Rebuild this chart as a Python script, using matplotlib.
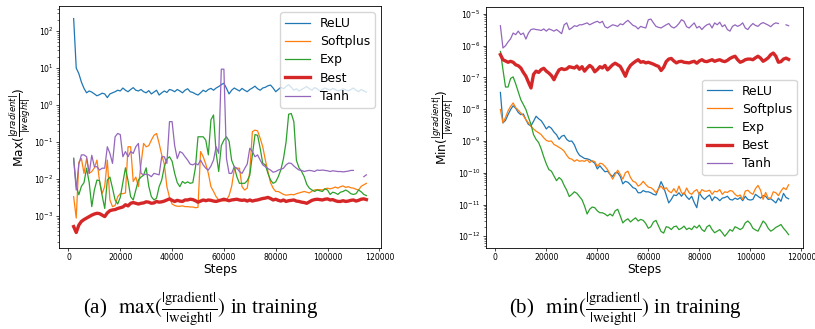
import numpy as np
import matplotlib
matplotlib.use("Agg")
import matplotlib.pyplot as plt
from matplotlib.ticker import LogLocator, NullFormatter

#Training steps, logged every 1000 steps from 2000 to 115000
steps = np.arange(2000, 115001, 1000)

#Values below are log10 of the ratio
#---- max(|gradient|/|weight|) ----
max_relu = [2.34, 1.0, 0.85, 0.62, 0.45, 0.33, 0.38, 0.35, 0.30, 0.25,
            0.28, 0.32, 0.30, 0.20, 0.30, 0.33, 0.36, 0.40, 0.38, 0.46,
            0.40, 0.36, 0.42, 0.47, 0.40, 0.38, 0.42, 0.36, 0.33, 0.39,
            0.30, 0.35, 0.40, 0.27, 0.33, 0.38, 0.34, 0.42, 0.40, 0.36,
            0.42, 0.38, 0.33, 0.40, 0.44, 0.36, 0.34, 0.30, 0.27, 0.33,
            0.40, 0.36, 0.42, 0.45, 0.40, 0.46, 0.50, 0.55, 0.59, 0.45,
            0.30, 0.40, 0.46, 0.42, 0.38, 0.45, 0.40, 0.36, 0.42, 0.46,
            0.51, 0.44, 0.40, 0.46, 0.48, 0.52, 0.54, 0.46, 0.36, 0.42,
            0.48, 0.44, 0.50, 0.55, 0.48, 0.40, 0.44, 0.38, 0.42, 0.46,
            0.50, 0.44, 0.40, 0.47, 0.44, 0.38, 0.42, 0.46, 0.43, 0.40,
            0.45, 0.42, 0.38, 0.40, 0.44, 0.41, 0.38, 0.42, 0.46, 0.40,
            0.36, 0.42, 0.38, 0.35]
max_softplus = [-2.48, -3.06, -1.55, -1.45, -1.85, -1.45, -1.85, -1.80, -1.70, -1.49,
                -2.07, -2.40, -2.20, -1.49, -2.57, -2.75, -2.72, -2.48, -2.40, -2.40,
                -2.38, -1.13, -1.13, -2.07, -1.95, -2.21, -1.60, -1.04, -1.13, -1.10,
                -0.95, -0.82, -0.77, -1.04, -1.35, -1.60, -2.21, -2.50, -2.68, -2.72,
                -2.74, -2.74, -2.73, -2.75, -2.75, -2.76, -2.76, -2.78, -2.77, -1.26,
                -1.40, -1.60, -1.85, -2.21, -2.34, -2.48, -2.57, -2.58, -2.60, -2.57,
                -2.45, -2.20, -1.75, -1.71, -1.71, -2.21, -2.30, -2.25, -1.80, -0.72,
                -0.68, -0.70, -0.90, -1.13, -1.49, -1.80, -2.10, -2.25, -2.34, -2.34,
                -2.38, -2.42, -2.44, -2.43, -2.42, -2.43, -2.40, -2.38, -2.36, -2.34,
                -2.36, -2.38, -2.33, -2.30, -2.29, -2.29, -2.30, -2.27, -2.25, -2.27,
                -2.25, -2.22, -2.25, -2.21, -2.19, -2.23, -2.21, -2.24, -2.25, -2.28,
                -2.30, -2.20, -2.16, -2.12]
max_exp = [-1.44, -2.20, -2.43, -2.20, -2.10, -1.71, -2.10, -2.75, -2.30, -2.03,
           -2.05, -2.45, -2.80, -2.03, -1.95, -2.25, -2.57, -2.68, -2.50, -2.10,
           -1.70, -2.05, -2.48, -2.57, -2.30, -2.03, -1.95, -1.90, -1.70, -2.20,
           -2.48, -2.57, -2.52, -2.21, -2.03, -1.67, -1.46, -1.40, -1.52, -1.85,
           -2.10, -2.21, -2.07, -2.12, -2.08, -2.12, -2.10, -1.70, -0.86, -0.86,
           -0.86, -0.95, -1.35, -0.40, -0.27, -1.30, -1.80, -1.10, -0.95, -0.86,
           -0.98, -1.50, -1.67, -1.94, -2.12, -2.12, -2.12, -2.05, -1.90, -1.35,
           -0.80, -0.82, -1.17, -1.58, -1.62, -1.85, -2.03, -2.12, -2.08, -1.94,
           -1.75, -1.45, -1.00, -0.25, -0.23, -0.45, -1.50, -1.70, -1.80, -1.94,
           -2.15, -2.25, -2.30, -2.34, -2.30, -2.32, -2.34, -2.27, -2.30, -2.42,
           -2.36, -2.38, -2.42, -2.36, -2.34, -2.30, -2.34, -2.40, -2.42, -2.40,
           -2.30, -2.35, -2.42, -2.45]
max_best = [-3.29, -3.45, -3.25, -3.15, -3.10, -3.06, -3.02, -2.98, -2.95, -2.93,
            -2.94, -2.98, -3.02, -2.92, -2.86, -2.84, -2.83, -2.80, -2.78, -2.76,
            -2.70, -2.73, -2.66, -2.64, -2.66, -2.68, -2.66, -2.65, -2.62, -2.63,
            -2.66, -2.65, -2.61, -2.63, -2.62, -2.60, -2.57, -2.54, -2.58, -2.61,
            -2.58, -2.60, -2.61, -2.57, -2.57, -2.55, -2.56, -2.59, -2.63, -2.60,
            -2.57, -2.59, -2.57, -2.58, -2.60, -2.61, -2.59, -2.57, -2.55, -2.57,
            -2.59, -2.57, -2.56, -2.55, -2.57, -2.58, -2.57, -2.60, -2.57, -2.60,
            -2.58, -2.57, -2.55, -2.53, -2.52, -2.50, -2.53, -2.57, -2.55, -2.58,
            -2.60, -2.57, -2.61, -2.59, -2.58, -2.57, -2.60, -2.61, -2.63, -2.64,
            -2.66, -2.62, -2.58, -2.56, -2.55, -2.56, -2.57, -2.55, -2.54, -2.57,
            -2.56, -2.59, -2.61, -2.61, -2.59, -2.61, -2.60, -2.58, -2.57, -2.60,
            -2.58, -2.55, -2.54, -2.56]
max_tanh = [-1.45, -2.30, -1.60, -1.35, -1.35, -1.40, -1.85, -1.36, -1.67, -1.67,
            -1.76, -1.71, -1.71, -1.13, -1.31, -1.58, -0.86, -0.77, -0.80, -1.40,
            -1.26, -1.40, -1.26, -1.31, -1.13, -1.04, -1.85, -1.89, -1.87, -1.89,
            -1.94, -1.85, -1.87, -1.89, -1.40, -1.40, -1.58, -0.45, -0.45, -1.10,
            -1.45, -1.26, -1.30, -1.40, -1.49, -1.60, -1.62, -1.58, -1.62, -1.49,
            -1.62, -1.71, -1.76, -1.65, -1.49, -1.13, -1.31, 0.97, 0.97, -1.45,
            -1.85, -1.85, -1.67, -1.71, -1.80, -1.85, -1.72, -1.60, -1.17, -1.26,
            -1.40, -1.35, -1.49, -1.62, -1.67, -1.72, -1.76, -1.82, -1.80, -1.76,
            -1.74, -1.71, -1.62, -1.57, -1.58, -1.65, -1.71, -1.76, -1.77, -1.80,
            -1.78, -1.77, -1.78, -1.80, -1.76, -1.77, -1.76, -1.77, -1.78, -1.80,
            -1.78, -1.79, -1.80, -1.80, -1.81, -1.80, -1.79, -1.77, -1.77, np.nan,
            np.nan, np.nan, -1.94, -1.89]

#---- min(|gradient|/|weight|) ----
min_relu = [-7.47, -8.43, -8.35, -8.17, -8.01, -7.89, -7.97, -8.10, -8.17, -8.15,
            -8.33, -8.48, -8.52, -8.38, -8.22, -8.30, -8.36, -8.48, -8.62, -8.54,
            -8.60, -8.72, -8.80, -8.95, -8.85, -8.82, -8.95, -9.01, -9.00, -9.12,
            -9.32, -9.45, -9.50, -9.55, -9.56, -9.59, -9.64, -9.70, -9.88, -9.78,
            -9.88, -9.97, -9.95, -10.05, -10.12, -10.00, -10.00, -10.12, -10.35, -10.27,
            -10.30, -10.38, -10.47, -10.50, -10.63, -10.63, -10.56, -10.60, -10.60, -10.63,
            -10.68, -10.70, -10.50, -10.28, -10.45, -10.70, -10.95, -10.84, -10.70, -10.72,
            -10.63, -10.74, -10.63, -10.76, -10.84, -10.74, -10.94, -11.10, -10.63, -10.76,
            -10.84, -10.76, -10.70, -10.88, -10.76, -10.80, -10.88, -10.80, -10.78, -10.74,
            -10.84, -10.86, -10.80, -10.84, -10.78, -10.88, -10.74, -10.84, -10.86, -10.84,
            -10.68, -10.74, -10.80, -10.72, -10.74, -10.84, -10.82, -10.88, -10.95, -10.80,
            -10.90, -10.65, -10.78, -10.82]
min_softplus = [-8.01, -8.43, -8.26, -8.05, -7.91, -7.80, -7.95, -8.03, -8.12, -8.20,
                -8.33, -8.43, -8.54, -8.62, -8.69, -8.74, -8.80, -8.90, -8.98, -9.01,
                -9.00, -9.11, -9.15, -9.20, -9.25, -9.32, -9.45, -9.55, -9.57, -9.64,
                -9.59, -9.64, -9.62, -9.64, -9.59, -9.68, -9.62, -9.65, -9.80, -9.70,
                -9.72, -9.80, -9.90, -10.05, -10.20, -10.05, -9.92, -10.05, -10.20, -10.00,
                -9.95, -10.15, -10.27, -10.30, -10.42, -10.37, -10.27, -10.37, -10.45, -10.47,
                -10.53, -10.63, -10.50, -10.42, -10.53, -10.47, -10.58, -10.63, -10.50, -10.63,
                -10.42, -10.63, -10.68, -10.48, -10.63, -10.68, -10.58, -10.53, -10.68, -10.53,
                -10.58, -10.58, -10.55, -10.68, -10.58, -10.60, -10.53, -10.68, -10.60, -10.62,
                -10.56, -10.58, -10.68, -10.74, -10.70, -10.84, -10.58, -10.55, -10.63, -10.68,
                -10.50, -10.40, -10.55, -10.84, -10.62, -10.80, -10.80, -10.60, -10.63, -10.72,
                -10.58, -10.47, -10.53, -10.38]
min_exp = [-6.18, -6.75, -7.30, -7.30, -7.03, -6.98, -7.20, -7.45, -7.70, -7.85,
           -8.01, -8.25, -8.48, -8.80, -8.95, -9.05, -9.25, -9.50, -9.72, -9.90,
           -9.95, -10.10, -10.25, -10.15, -10.22, -10.40, -10.55, -10.75, -10.68, -10.60,
           -10.65, -10.75, -10.85, -11.05, -11.30, -11.15, -11.08, -11.10, -11.20, -11.26,
           -11.26, -11.30, -11.36, -11.30, -11.36, -11.20, -11.15, -11.36, -11.58, -11.50,
           -11.45, -11.55, -11.48, -11.42, -11.52, -11.47, -11.50, -11.60, -11.75, -11.70,
           -11.55, -11.50, -11.68, -11.85, -11.90, -11.70, -11.72, -11.79, -11.70, -11.68,
           -11.79, -11.75, -11.68, -11.79, -11.74, -11.79, -11.68, -11.74, -11.65, -11.79,
           -11.85, -11.70, -11.65, -11.79, -11.89, -11.84, -11.79, -11.89, -12.00, -11.90,
           -11.79, -11.84, -11.70, -11.74, -11.79, -11.74, -11.58, -11.52, -11.60, -11.75,
           -11.80, -11.84, -11.68, -11.52, -11.60, -11.75, -11.84, -11.79, -11.72, -11.68,
           -11.63, -11.75, -11.84, -11.95]
min_best = [-6.28, -6.44, -6.48, -6.52, -6.49, -6.52, -6.60, -6.63, -6.70, -6.84,
            -6.96, -7.15, -7.33, -6.90, -6.80, -6.84, -6.75, -6.71, -6.80, -6.86,
            -6.94, -7.07, -6.90, -6.76, -6.72, -6.75, -6.73, -6.66, -6.68, -6.70,
            -6.64, -6.74, -6.66, -6.80, -6.70, -6.62, -6.68, -6.82, -6.75, -6.66,
            -6.70, -6.62, -6.76, -6.68, -6.60, -6.55, -6.60, -6.65, -6.80, -6.96,
            -6.75, -6.62, -6.55, -6.49, -6.44, -6.52, -6.50, -6.54, -6.52, -6.55,
            -6.58, -6.62, -6.65, -6.78, -6.68, -6.50, -6.42, -6.40, -6.48, -6.54,
            -6.50, -6.49, -6.52, -6.53, -6.54, -6.51, -6.49, -6.55, -6.48, -6.44,
            -6.49, -6.50, -6.47, -6.44, -6.49, -6.46, -6.44, -6.48, -6.50, -6.46,
            -6.40, -6.36, -6.33, -6.44, -6.52, -6.49, -6.44, -6.42, -6.42, -6.44,
            -6.38, -6.33, -6.39, -6.49, -6.44, -6.38, -6.28, -6.23, -6.33, -6.52,
            -6.50, -6.42, -6.39, -6.43]
min_tanh = [-5.37, -6.07, -6.00, -5.88, -5.78, -5.60, -5.65, -5.54, -5.65, -5.60,
            -5.79, -5.60, -5.49, -5.47, -5.49, -5.50, -5.52, -5.47, -5.54, -5.47,
            -5.50, -5.54, -5.49, -5.55, -5.62, -5.34, -5.28, -5.49, -5.44, -5.37,
            -5.39, -5.34, -5.34, -5.31, -5.28, -5.34, -5.30, -5.26, -5.23, -5.28,
            -5.23, -5.40, -5.44, -5.39, -5.34, -5.36, -5.39, -5.31, -5.34, -5.26,
            -5.20, -5.28, -5.36, -5.39, -5.47, -5.39, -5.42, -5.44, -5.18, -5.16,
            -5.28, -5.39, -5.42, -5.44, -5.39, -5.34, -5.30, -5.40, -5.44, -5.39,
            -5.30, -5.18, -5.23, -5.40, -5.44, -5.36, -5.28, -5.44, -5.39, -5.49,
            -5.40, -5.34, -5.31, -5.44, -5.28, -5.34, -5.26, -5.40, -5.34, -5.49,
            -5.54, -5.39, -5.34, -5.39, -5.35, -5.28, -5.44, -5.49, -5.38, -5.30,
            -5.36, -5.39, -5.31, -5.27, -5.31, -5.35, -5.40, -5.32, -5.28, -5.30,
            np.nan, np.nan, -5.34, -5.37]

labels = ["ReLU", "Softplus", "Exp", "Best", "Tanh"]
colors = ["tab:blue", "tab:orange", "tab:green", "tab:red", "tab:purple"]
widths = [0.9, 0.9, 0.9, 2.4, 0.9]


def draw_panel(ax, series, ylabel, ylim, legend_loc):
    for vals, lab, col, lw in zip(series, labels, colors, widths):
        ax.plot(steps, 10.0 ** np.array(vals), color=col, lw=lw, label=lab)
    ax.set_yscale("log")
    ax.set_ylim(ylim)
    ax.yaxis.set_major_locator(LogLocator(base=10, numticks=30))
    ax.yaxis.set_minor_locator(LogLocator(base=10, subs=np.arange(2, 10), numticks=200))
    ax.yaxis.set_minor_formatter(NullFormatter())
    ax.set_xticks([0, 20000, 40000, 60000, 80000, 100000, 120000])
    ax.tick_params(axis="both", which="major", labelsize=5.6, length=2.2, width=0.5, pad=1.5)
    ax.tick_params(axis="both", which="minor", length=1.2, width=0.4)
    ax.set_xlabel("Steps", fontsize=8.8, labelpad=0.5)
    ax.set_ylabel(ylabel, fontsize=8.8, labelpad=1)
    for sp in ax.spines.values():
        sp.set_linewidth(0.6)
    ax.legend(loc=legend_loc, fontsize=8.9, handlelength=2.0, borderpad=0.4,
              labelspacing=0.42, framealpha=0.8)


def main():
    fig = plt.figure(figsize=(8.15, 3.29), dpi=100)
    ax1 = fig.add_axes([0.0724, 0.2462, 0.3951, 0.7356])
    ax2 = fig.add_axes([0.5963, 0.2462, 0.3890, 0.7325])

    draw_panel(ax1, [max_relu, max_softplus, max_exp, max_best, max_tanh],
               r"Max($\frac{|gradient|}{|weight|}$)", (10 ** -3.87, 10 ** 2.68), "upper right")
    draw_panel(ax2, [min_relu, min_softplus, min_exp, min_best, min_tanh],
               r"Min($\frac{|gradient|}{|weight|}$)", (10 ** -12.37, 10 ** -4.78), "center right")

    #Sub-figure captions as in the paper
    cap = dict(fontsize=15, family="Liberation Serif", math_fontfamily="stix",
               ha="center", va="baseline")
    fig.text(0.246, 0.046, r"(a)$\enspace\ \max(\frac{|\mathrm{gradient}|}{|\mathrm{weight}|})$ in training", **cap)
    fig.text(0.767, 0.046, r"(b)$\enspace\ \min(\frac{|\mathrm{gradient}|}{|\mathrm{weight}|})$ in training", **cap)

    fig.savefig("out.png", dpi=100)


if __name__ == "__main__":
    main()
